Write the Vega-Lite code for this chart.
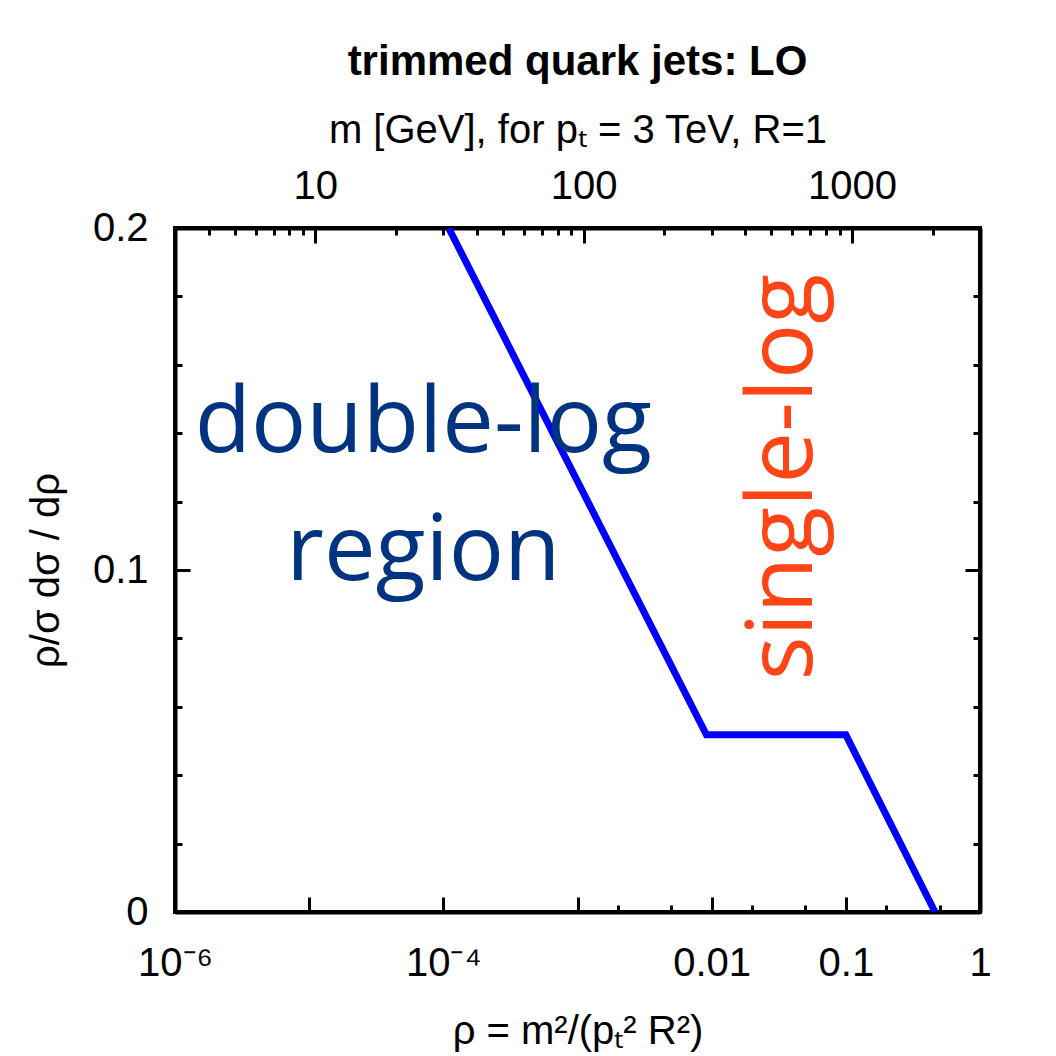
{
  "$schema": "https://vega.github.io/schema/vega-lite/v6.json",
  "width": 805,
  "height": 684,
  "autosize": {"type": "none"},
  "padding": {"left": 175, "top": 228, "right": 76, "bottom": 144},
  "background": "white",
  "config": {
    "font": "Liberation Sans",
    "view": {"stroke": "black", "strokeWidth": 4},
    "axis": {
      "grid": false,
      "domainColor": "black",
      "domainWidth": 4,
      "tickColor": "black",
      "tickWidth": 3,
      "labelColor": "black",
      "titleColor": "black",
      "labelFont": "Liberation Sans",
      "titleFont": "Liberation Sans",
      "labelFontSize": 40,
      "titleFontSize": 40,
      "titleFontWeight": "normal",
      "labelOverlap": false,
      "labelFlush": false,
      "labelBound": false
    }
  },
  "title": {
    "text": "trimmed quark jets: LO",
    "fontSize": 42,
    "fontWeight": "bold",
    "font": "Liberation Sans",
    "color": "black",
    "anchor": "middle",
    "offset": 26
  },
  "datasets": {
    "curve": [
      {"rho": 0.0001096, "val": 0.2},
      {"rho": 0.00914, "val": 0.0518},
      {"rho": 0.1, "val": 0.0518},
      {"rho": 0.462, "val": 0.0}
    ],
    "blueText": [
      {"rho": 0.000071, "val": 0.1345, "label": "double-log"},
      {"rho": 0.000071, "val": 0.0971, "label": "region"}
    ],
    "redText": [
      {"rho": 0.0557, "val": 0.1272, "label": "single-log"}
    ],
    "topTicks": [{"m": 10}, {"m": 100}, {"m": 1000}],
    "rightTicks": [{"val": 0}, {"val": 0.2}]
  },
  "layer": [
    {
      "data": {"name": "curve"},
      "mark": {"type": "line", "color": "#0000ff", "strokeWidth": 7, "clip": true},
      "encoding": {
        "x": {
          "field": "rho",
          "type": "quantitative",
          "scale": {"type": "log", "domain": [0.000001, 1]},
          "axis": {
            "orient": "bottom",
            "values": [0.000001, 0.00001, 0.0001, 0.001, 0.002, 0.005, 0.01, 0.02, 0.05, 0.1, 0.2, 0.5, 1],
            "tickSize": {"condition": {"test": "abs(log(datum.value)/LN10 - round(log(datum.value)/LN10)) < 0.01", "value": -15}, "value": -7},
            "labelExpr": "datum.value < 0.000002 ? '10⁻⁶' : (datum.value > 0.00009 && datum.value < 0.00011) ? '10⁻⁴' : (datum.value > 0.009 && datum.value < 0.011) ? '0.01' : (datum.value > 0.09 && datum.value < 0.11) ? '0.1' : datum.value > 0.9 ? '1' : ''",
            "labelPadding": 78,
            "labelBaseline": "alphabetic",
            "title": "ρ = m²/(pₜ² R²)",
            "titlePadding": 20
          }
        },
        "y": {
          "field": "val",
          "type": "quantitative",
          "scale": {"domain": [0, 0.2]},
          "axis": {
            "orient": "left",
            "values": [0, 0.02, 0.04, 0.06, 0.08, 0.1, 0.12, 0.14, 0.16, 0.18, 0.2],
            "tickSize": {"condition": {"test": "datum.value == 0 || datum.value == 0.1 || datum.value == 0.2", "value": -15}, "value": -7},
            "labelExpr": "datum.value == 0 ? '0' : datum.value == 0.1 ? '0.1' : datum.value == 0.2 ? '0.2' : ''",
            "labelPadding": 42,
            "title": "ρ/σ dσ / dρ",
            "titlePadding": 26
          }
        }
      }
    },
    {
      "data": {"name": "blueText"},
      "mark": {"type": "text", "font": "Open Sans", "fontWeight": 400, "fontSize": 92, "color": "#003380", "align": "center", "baseline": "alphabetic"},
      "encoding": {
        "x": {"field": "rho", "type": "quantitative", "scale": {"type": "log", "domain": [0.000001, 1]}, "axis": null},
        "y": {"field": "val", "type": "quantitative", "scale": {"domain": [0, 0.2]}, "axis": null},
        "text": {"field": "label"}
      }
    },
    {
      "data": {"name": "redText"},
      "mark": {"type": "text", "font": "Open Sans", "fontWeight": 400, "fontSize": 92, "color": "#ff4515", "align": "center", "baseline": "alphabetic", "angle": 270},
      "encoding": {
        "x": {"field": "rho", "type": "quantitative", "scale": {"type": "log", "domain": [0.000001, 1]}, "axis": null},
        "y": {"field": "val", "type": "quantitative", "scale": {"domain": [0, 0.2]}, "axis": null},
        "text": {"field": "label"}
      }
    },
    {
      "data": {"name": "topTicks"},
      "mark": {"type": "point", "opacity": 0},
      "encoding": {
        "x": {
          "field": "m",
          "type": "quantitative",
          "scale": {"type": "log", "domain": [3, 3000]},
          "axis": {
            "orient": "top",
            "values": [4, 5, 6, 7, 8, 9, 10, 20, 30, 40, 50, 60, 70, 80, 90, 100, 200, 300, 400, 500, 600, 700, 800, 900, 1000, 2000],
            "tickSize": {"condition": {"test": "datum.value == 10 || datum.value == 100 || datum.value == 1000", "value": -15}, "value": -7},
            "labelExpr": "datum.value == 10 ? '10' : datum.value == 100 ? '100' : datum.value == 1000 ? '1000' : ''",
            "labelPadding": 45,
            "labelBaseline": "alphabetic",
            "title": "m [GeV], for pₜ = 3 TeV, R=1",
            "titlePadding": 8
          }
        }
      }
    },
    {
      "data": {"name": "rightTicks"},
      "mark": {"type": "point", "opacity": 0},
      "encoding": {
        "y": {
          "field": "val",
          "type": "quantitative",
          "scale": {"domain": [0, 0.2]},
          "axis": {
            "orient": "right",
            "values": [0, 0.02, 0.04, 0.06, 0.08, 0.1, 0.12, 0.14, 0.16, 0.18, 0.2],
            "tickSize": {"condition": {"test": "datum.value == 0 || datum.value == 0.1 || datum.value == 0.2", "value": -15}, "value": -7},
            "labels": false,
            "title": null
          }
        }
      }
    }
  ],
  "resolve": {"scale": {"x": "independent", "y": "independent"}}
}
